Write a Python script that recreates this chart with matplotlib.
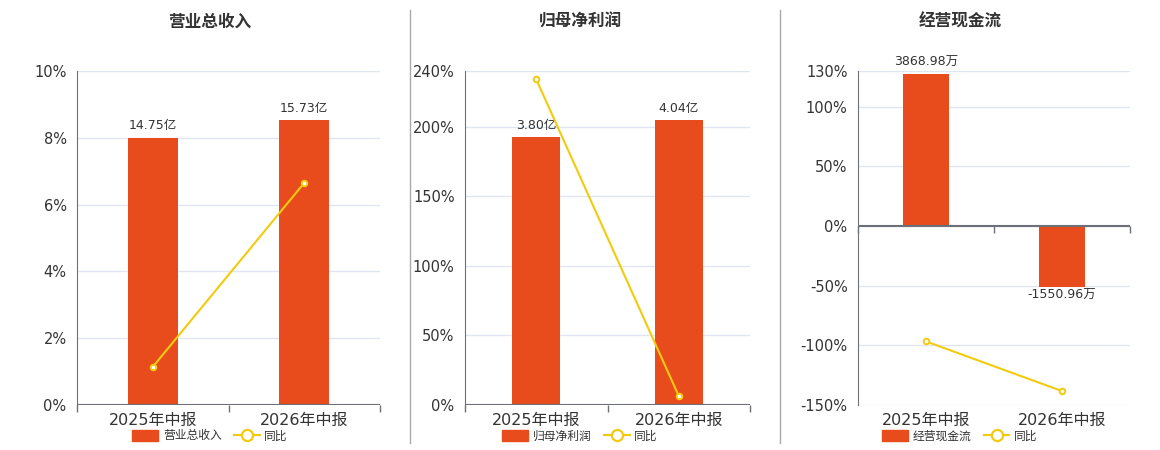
import numpy as np
import matplotlib.pyplot as plt
from matplotlib.lines import Line2D
from matplotlib.patches import Patch

plt.rcParams['font.family'] = ['DejaVu Sans', 'Noto Sans CJK SC']

# data
periods = ['2025年中报', '2026年中报']

titles = ['营业总收入', '归母净利润', '经营现金流']
bar_names = ['营业总收入', '归母净利润', '经营现金流']
line_name = '同比'

revenue = [14.75, 15.73]          # 亿
net_profit = [3.80, 4.04]         # 亿
cash_flow = [3868.98, -1550.96]   # 万
units = ['亿', '亿', '万']

revenue_yoy = [1.14, 6.65]        # %
net_profit_yoy = [234.0, 6.5]     # %
cash_flow_yoy = [-96.7, -138.3]   # %

pct_ticks = [
    [0, 2, 4, 6, 8, 10],
    [0, 50, 100, 150, 200, 240],
    [-150, -100, -50, 0, 50, 100, 130],
]
pct_lims = [(0, 10), (0, 240), (-150, 130)]
bar_lims = [(0, 18.44), (0, 4.74), (-4552, 3946)]

bars_all = [revenue, net_profit, cash_flow]
yoy_all = [revenue_yoy, net_profit_yoy, cash_flow_yoy]

BAR_C = '#E84C1C'
LINE_C = '#F2CB0E'
GRID_C = '#E0E6F1'
AXIS_C = '#6E7079'
TEXT_C = '#333333'

W, H = 1160, 450
fig = plt.figure(figsize=(W / 100, H / 100), dpi=100)

# axes boxes in pixels: left, right, top, bottom
boxes = [(77, 380, 71, 405), (465, 750, 71, 405), (858, 1130, 71, 405)]
centers = [210, 580, 960]
bar_widths = [0.33, 0.34, 0.34]

for i in range(3):
    l, r, t, b = boxes[i]
    rect = [l / W, 1 - b / H, (r - l) / W, (b - t) / H]
    ax_bar = fig.add_axes(rect)
    ax = ax_bar.twinx()
    ax.patch.set_visible(False)

    x = np.arange(len(periods))
    lo, hi = bar_lims[i]
    plo, phi = pct_lims[i]
    k = (hi - lo) / (phi - plo)

    # bars on the hidden axis, grid drawn there so it sits behind bars
    ax_bar.set_ylim(lo, hi)
    ax_bar.set_yticks(np.array(pct_ticks[i]) * k)
    ax_bar.yaxis.grid(True, color=GRID_C, lw=1)
    ax_bar.set_axisbelow(True)
    ax_bar.tick_params(axis='y', left=False, right=False, labelleft=False, labelright=False)
    ax_bar.bar(x, bars_all[i], width=bar_widths[i], color=BAR_C, zorder=2)
    for bx, v in zip(x, bars_all[i]):
        txt = '{:.2f}{}'.format(v, units[i])
        if v >= 0:
            ax_bar.annotate(txt, (bx, v), xytext=(0, 4), textcoords='offset points',
                            ha='center', va='bottom', fontsize=9, color=TEXT_C)
        else:
            ax_bar.annotate(txt, (bx, v), xytext=(0, -1), textcoords='offset points',
                            ha='center', va='top', fontsize=9, color=TEXT_C)

    ax_bar.set_xticks(x)
    ax_bar.set_xticklabels(periods)
    ax_bar.tick_params(axis='x', length=0, labelsize=11.5, labelcolor=TEXT_C, pad=6)

    # yoy line on the percent axis
    ax.plot(x, yoy_all[i], color=LINE_C, lw=1.5, marker='o', ms=4,
            mfc='white', mec=LINE_C, mew=1.4, zorder=5)
    ax.set_ylim(plo, phi)
    ax.set_yticks(pct_ticks[i])
    ax.set_yticklabels(['{}%'.format(v) for v in pct_ticks[i]])
    ax.yaxis.tick_left()
    ax.tick_params(axis='y', left=False, right=False, labelsize=10.5, labelcolor=TEXT_C, pad=4)

    for a in (ax, ax_bar):
        a.set_xlim(-0.5, len(periods) - 0.5)
        for s in a.spines.values():
            s.set_visible(False)
    ax.spines['left'].set_visible(True)
    ax.spines['left'].set_color(AXIS_C)

    # category axis line with boundary ticks, at zero
    ax.axhline(0, color=AXIS_C, lw=1.5, zorder=4)
    ax.plot([-0.5, 0.5, 1.5], [0, 0, 0], ls='none', marker=3, ms=5,
            color=AXIS_C, mew=1, zorder=4, clip_on=False)

    fig.text(centers[i] / W, 1 - 22 / H, titles[i], ha='center', va='center',
             fontsize=12, fontweight='bold', color=TEXT_C)

    handles = [Patch(facecolor=BAR_C, edgecolor=BAR_C, label=bar_names[i]),
               Line2D([], [], color=LINE_C, lw=1.6, marker='o', ms=8, mfc='white',
                      mec=LINE_C, mew=1.6, label=line_name)]
    fig.legend(handles=handles, loc='center', bbox_to_anchor=(centers[i] / W, 1 - 436 / H),
               ncol=2, frameon=False, fontsize=8.5, handlelength=2.2, handleheight=1.0,
               columnspacing=1.0, handletextpad=0.4, labelcolor=TEXT_C)

# panel separators
for sx in (410, 780):
    fig.add_artist(Line2D([sx / W, sx / W], [1 - 10 / H, 1 - 443 / H],
                          color='#AAAAAA', lw=1))

fig.savefig('out.png', dpi=100)
